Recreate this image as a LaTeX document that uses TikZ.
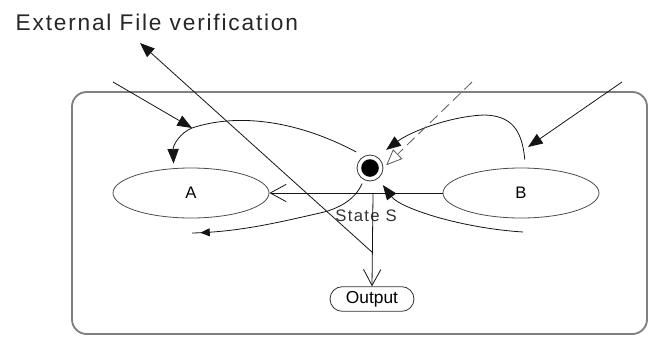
\documentclass[tikz,border=0pt]{standalone}
\usepackage{fontspec}
\setmainfont{Liberation Sans}
\usetikzlibrary{shapes.geometric, shapes.misc, arrows.meta, positioning, calc, decorations.markings}
\definecolor{framegray}{RGB}{128, 128, 128}
\definecolor{linedark}{RGB}{20, 20, 20}
\definecolor{dashgray}{RGB}{90, 90, 90}
\tikzset{
  state/.style={ellipse, draw=black!70, line width=0.6pt, minimum width=117pt,
                minimum height=37.5pt, font=\fontsize{12.5}{14}\selectfont},
  initstate/.style={circle, draw=black!80, line width=0.6pt, minimum size=19.5pt, inner sep=0pt,
                    path picture={\fill[black] (path picture bounding box.center) circle (6.6pt);}},
  outbox/.style={rounded rectangle, draw=black!80, line width=0.6pt, minimum width=65pt,
                 minimum height=18.5pt, inner sep=1pt, font=\fontsize{13}{14}\selectfont},
  trans/.style={line width=0.6pt, color=linedark},
  openarrow/.style={trans, -{Straight Barb[length=12pt, width=13pt]}},
  filledarrow/.style={trans, -{Triangle[length=11pt, width=8.5pt]}},
}

\begin{document}
\begin{tikzpicture}[x=0.75pt, y=-0.75pt]
  \useasboundingbox (0,0) rectangle (649,336);
  % frame
  \draw[framegray, line width=1.4pt, rounded corners=11pt] (72,92) rectangle (647,334);
  \node[font=\fontsize{17}{19}\selectfont\addfontfeatures{LetterSpace=8}, anchor=west, text=black!85] (title) at (11,22) {External File verification};

  % states
  \node[state] (A) at (191,193) {A};
  \node[state] (B) at (521,193) {B};
  \node[initstate] (S) at (370,168) {};
  \node[font=\fontsize{12.5}{14}\selectfont\addfontfeatures{LetterSpace=8}, text=black!80] (Slabel) at (366,216) {State S};
  \node[outbox] (out) at (372,299) {Output};

  % free ends
  \coordinate (J) at (373,194);
  \coordinate (extout) at (140,43);
  \coordinate (extin) at (373,253);
  \coordinate (inA) at (113,82);
  \coordinate (hitA) at (192,128);
  \coordinate (inB) at (622,82);
  \coordinate (hitB) at (528,147);
  \coordinate (dashin) at (472,82);
  \coordinate (loopout) at (192,233);
  \coordinate (loopin) at (523,232);

  % transitions
  \draw[openarrow] (B.west) -- (A.east);
  \draw[openarrow] (J) -- (out.north);
  \draw[filledarrow] (extin) -- (extout);
  \draw[filledarrow] (inA) -- (hitA);
  \draw[filledarrow] (inB) -- (hitB);
  \draw[filledarrow, shorten <=6.5pt, shorten >=3.5pt] (S.117) .. controls (300,122) and (240,112) .. (hitA)
       .. controls (180,133) and (173,145) .. (A.125);
  \draw[filledarrow, shorten <=6pt, shorten >=8.5pt] (B.80) .. controls (522,128) and (510,116) .. (485,115)
       .. controls (450,116) and (410,132) .. (S.58);
  \draw[dashgray, line width=0.6pt, dash pattern=on 8pt off 4pt,
        -{Triangle[open, length=12pt, width=10pt]}, shorten >=3pt] (dashin) -- (S.east);
  \draw[trans, shorten <=3pt,
        decoration={markings, mark=at position 0.955 with {\arrow{Triangle[length=7pt, width=6pt]}}},
        postaction={decorate}] (S.242) .. controls (355,200) and (338,209) .. (320,213)
       .. controls (280,222) and (240,232) .. (loopout);
  \draw[filledarrow, shorten >=6pt] (loopin) .. controls (460,228) and (400,208) .. (S.307);
\end{tikzpicture}
\end{document}
